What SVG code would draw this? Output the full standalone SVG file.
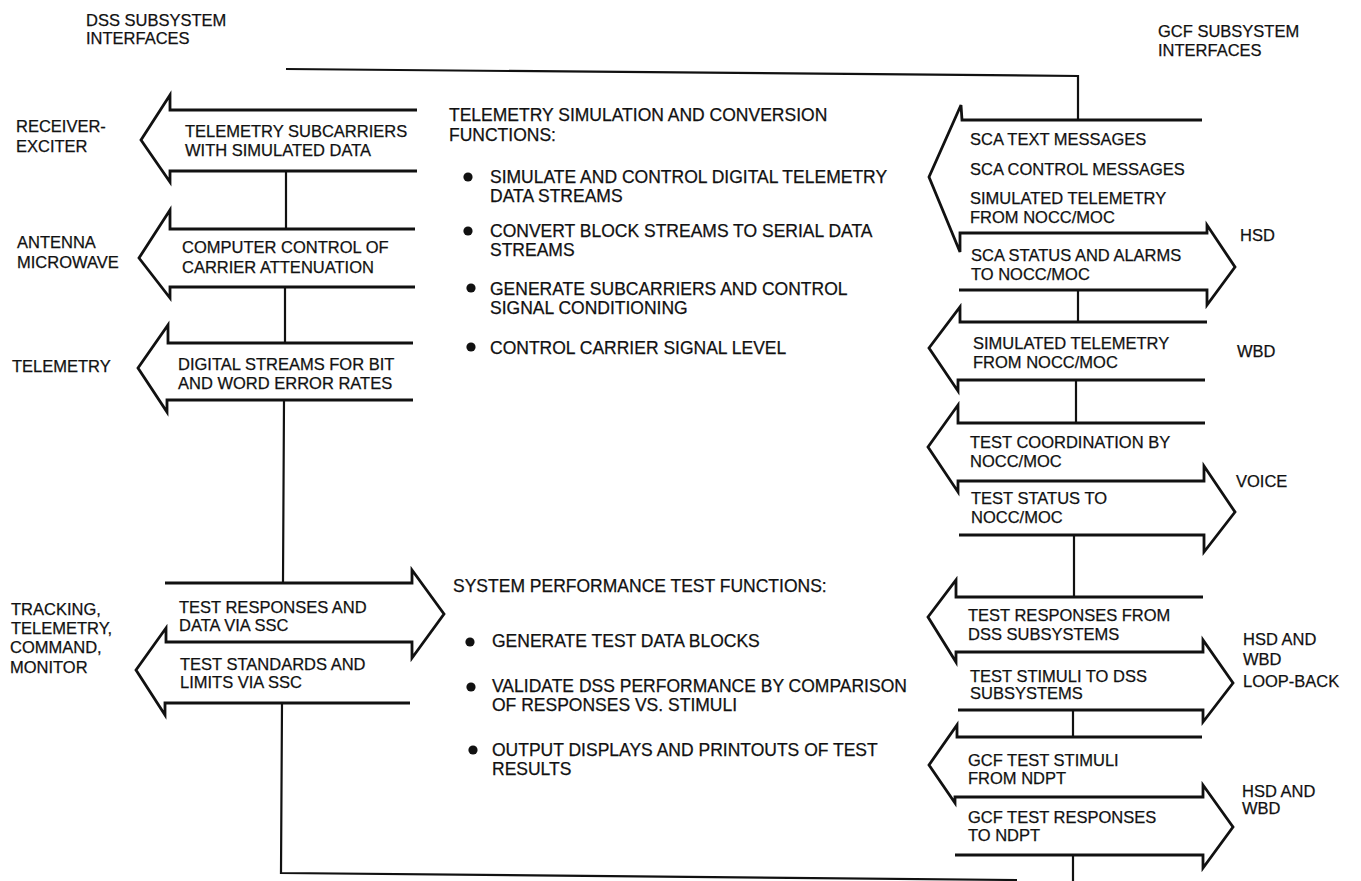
<svg xmlns="http://www.w3.org/2000/svg" width="1361" height="881" viewBox="0 0 1361 881">
<style>
text{font-family:"Liberation Sans",Arial,sans-serif;font-size:16.5px;fill:#111;stroke:#111;stroke-width:0.25;}
.m{font-size:17.5px;}
.arrow{fill:none;stroke:#111;stroke-width:2.8;stroke-linejoin:miter;}
.bus{fill:none;stroke:#111;stroke-width:2.2;}
.dot{fill:#111;}
</style>
<rect width="1361" height="881" fill="#fff"/>
<g id="connectors">
<path class="bus" d="M286,69 L1078,76 L1078,120 M286,171 L286,229 M285,287 L285,343 M284,400 L283,583 M282,703 L281,873 L1017,880 M1078,290 L1078,322 M1076,380 L1076,423 M1074,535 L1074,597 M1073,710 L1073,737 M1073,855 L1073,881"/>
</g>
<g id="headings">
<text x="86" y="26">DSS SUBSYSTEM</text>
<text x="86" y="44">INTERFACES</text>
<text x="1158" y="37">GCF SUBSYSTEM</text>
<text x="1158" y="56">INTERFACES</text>
</g>
<g id="dss-receiver-exciter">
<text x="16" y="132">RECEIVER-</text>
<text x="16" y="152">EXCITER</text>
<path class="arrow" d="M417,110 L170,110 L170,95 L141,140 L170,182 L170,171 L417,171"/>
<text x="185" y="137">TELEMETRY SUBCARRIERS</text>
<text x="185" y="156">WITH SIMULATED DATA</text>
</g>
<g id="dss-antenna-microwave">
<text x="17" y="248">ANTENNA</text>
<text x="17" y="268">MICROWAVE</text>
<path class="arrow" d="M415,229 L170,229 L170,210 L139,258 L170,298 L170,287 L415,287"/>
<text x="182" y="253">COMPUTER CONTROL OF</text>
<text x="182" y="273">CARRIER ATTENUATION</text>
</g>
<g id="dss-telemetry">
<text x="12" y="372">TELEMETRY</text>
<path class="arrow" d="M413,343 L168,343 L168,325 L138,368 L167,412 L167,400 L413,400"/>
<text x="178" y="370">DIGITAL STREAMS FOR BIT</text>
<text x="178" y="389">AND WORD ERROR RATES</text>
</g>
<g id="dss-tracking">
<text x="11" y="615">TRACKING,</text>
<text x="11" y="634">TELEMETRY,</text>
<text x="10" y="653">COMMAND,</text>
<text x="10" y="673">MONITOR</text>
<path class="arrow" d="M165,583 L412,583 L412,570 L444,614 L412,658 L412,642 L166,642 L166,628 L136,670 L165,715 L165,703 L410,703"/>
<text x="179" y="613">TEST RESPONSES AND</text>
<text x="179" y="631">DATA VIA SSC</text>
<text x="180" y="670">TEST STANDARDS AND</text>
<text x="180" y="688">LIMITS VIA SSC</text>
</g>
<g id="telemetry-functions">
<text class="m" x="449" y="121">TELEMETRY SIMULATION AND CONVERSION</text>
<text class="m" x="449" y="141">FUNCTIONS:</text>
<circle class="dot" cx="468" cy="177" r="4.6"/>
<text class="m" x="490" y="183">SIMULATE AND CONTROL DIGITAL TELEMETRY</text>
<text class="m" x="490" y="202">DATA STREAMS</text>
<circle class="dot" cx="468" cy="231" r="4.6"/>
<text class="m" x="490" y="237">CONVERT BLOCK STREAMS TO SERIAL DATA</text>
<text class="m" x="490" y="256">STREAMS</text>
<circle class="dot" cx="471" cy="288" r="4.6"/>
<text class="m" x="490" y="295">GENERATE SUBCARRIERS AND CONTROL</text>
<text class="m" x="490" y="314">SIGNAL CONDITIONING</text>
<circle class="dot" cx="471" cy="347" r="4.6"/>
<text class="m" x="490" y="354">CONTROL CARRIER SIGNAL LEVEL</text>
</g>
<g id="performance-functions">
<text class="m" x="453" y="592">SYSTEM PERFORMANCE TEST FUNCTIONS:</text>
<circle class="dot" cx="470" cy="642" r="4.6"/>
<text class="m" x="492" y="647">GENERATE TEST DATA BLOCKS</text>
<circle class="dot" cx="471" cy="687" r="4.6"/>
<text class="m" x="492" y="692">VALIDATE DSS PERFORMANCE BY COMPARISON</text>
<text class="m" x="492" y="711">OF RESPONSES VS. STIMULI</text>
<circle class="dot" cx="473" cy="750" r="4.6"/>
<text class="m" x="492" y="756">OUTPUT DISPLAYS AND PRINTOUTS OF TEST</text>
<text class="m" x="492" y="775">RESULTS</text>
</g>
<g id="gcf-hsd">
<path class="arrow" d="M1202,120 L962,120 L961,105 L929,177 L960,252 L960,233 L1207,233 L1207,225 L1235,267 L1207,305 L1207,290 L959,290"/>
<text x="970" y="145">SCA TEXT MESSAGES</text>
<text x="970" y="175">SCA CONTROL MESSAGES</text>
<text x="970" y="204">SIMULATED TELEMETRY</text>
<text x="970" y="223">FROM NOCC/MOC</text>
<text x="971" y="261">SCA STATUS AND ALARMS</text>
<text x="971" y="280">TO NOCC/MOC</text>
<text x="1240" y="241">HSD</text>
</g>
<g id="gcf-wbd">
<path class="arrow" d="M1207,322 L960,322 L960,307 L929,348 L958,391 L958,380 L1205,380"/>
<text x="973" y="349">SIMULATED TELEMETRY</text>
<text x="973" y="368">FROM NOCC/MOC</text>
<text x="1237" y="357">WBD</text>
</g>
<g id="gcf-voice">
<path class="arrow" d="M1205,423 L958,423 L958,405 L928,447 L958,492 L958,481 L1204,481 L1204,466 L1235,512 L1204,552 L1204,535 L959,535"/>
<text x="970" y="448">TEST COORDINATION BY</text>
<text x="970" y="467">NOCC/MOC</text>
<text x="971" y="504">TEST STATUS TO</text>
<text x="971" y="523">NOCC/MOC</text>
<text x="1236" y="487">VOICE</text>
</g>
<g id="gcf-loopback">
<path class="arrow" d="M1203,597 L956,597 L956,580 L928,617 L956,662 L956,652 L1203,652 L1203,640 L1233,683 L1203,722 L1203,710 L958,710"/>
<text x="968" y="621">TEST RESPONSES FROM</text>
<text x="968" y="640">DSS SUBSYSTEMS</text>
<text x="970" y="682">TEST STIMULI TO DSS</text>
<text x="970" y="699">SUBSYSTEMS</text>
<text x="1243" y="645">HSD AND</text>
<text x="1243" y="665">WBD</text>
<text x="1243" y="687">LOOP-BACK</text>
</g>
<g id="gcf-ndpt">
<path class="arrow" d="M1202,737 L957,737 L957,725 L929,765 L955,803 L955,797 L1203,797 L1203,785 L1233,827 L1203,868 L1203,855 L955,855"/>
<text x="968" y="766">GCF TEST STIMULI</text>
<text x="968" y="784">FROM NDPT</text>
<text x="968" y="823">GCF TEST RESPONSES</text>
<text x="968" y="841">TO NDPT</text>
<text x="1242" y="797">HSD AND</text>
<text x="1242" y="814">WBD</text>
</g>
</svg>
